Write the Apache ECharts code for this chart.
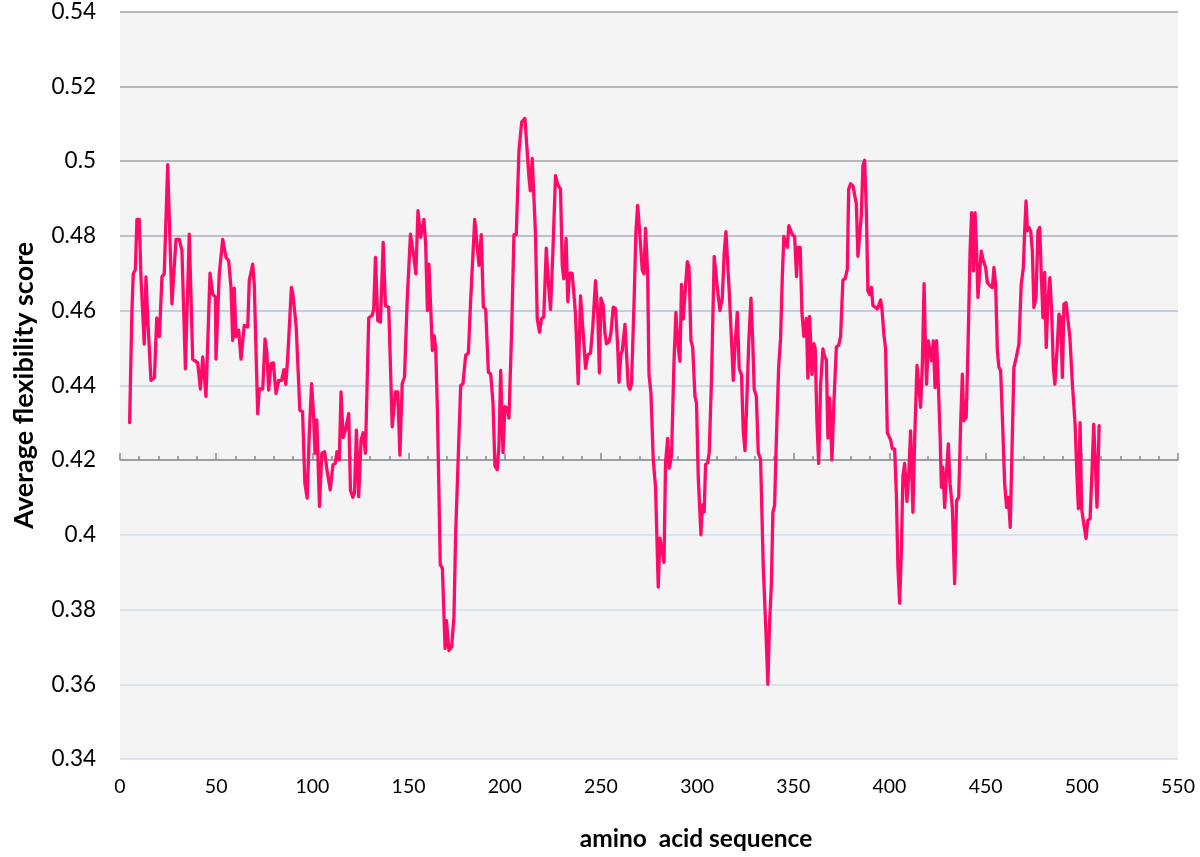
<!DOCTYPE html>
<html>
<head>
<meta charset="utf-8">
<script src="https://cdn.jsdelivr.net/npm/echarts@6/dist/echarts.min.js"></script>
<style>
  html, body { margin: 0; padding: 0; background: #ffffff; }
  #chart { width: 1200px; height: 857px; }
</style>
</head>
<body>
<div id="chart"></div>
<script>
// amino acid positions (x)
const positions = [
  5, 6.2, 6.9, 8, 8.8, 10, 10.9, 11.8, 12.6, 13.5, 14.4, 16.1, 17.9, 19.1, 20.5, 21.8, 23, 24.8, 25.6, 27,
  27.9, 29.1, 30.8, 32.2, 34, 34.3, 36, 37.8, 40.4, 41.8, 43, 44.7, 46.8, 48.2, 49.6, 49.9, 51.6, 53.4, 54.2, 55.1,
  56.5, 57.7, 58.6, 59.4, 60.3, 61.7, 62.9, 64.6, 66.4, 67.2, 69, 69.8, 70.7, 71.6, 72.4, 74.2, 75.4, 76.3, 77.3, 78.5,
  79.7, 81.1, 82.5, 84, 85.2, 86.2, 87.3, 89.1, 89.9, 91.6, 93.5, 94.9, 96.1, 97.3, 98.4, 99.6, 100.5, 101.4, 102.3, 103.7,
  104.9, 106.4, 107.6, 109.3, 110.7, 111.9, 112.8, 114, 114.9, 116, 117.2, 118.9, 119.8, 121, 121.9, 122.9, 124.1, 125.3, 126.4, 127.6,
  129.3, 131.1, 131.9, 132.8, 134, 135.4, 136.8, 138, 139.7, 141.5, 143.2, 144.4, 145.5, 146.7, 147.9, 149.3, 151, 152.8, 153.8, 154.9,
  156.3, 157.1, 158, 158.9, 159.8, 160.6, 161.5, 162.4, 163.3, 164.1, 165, 166.5, 167.6, 169, 169.7, 170.5, 171, 172.4, 173.6, 174.5,
  175.4, 177.1, 178.3, 179.7, 181.1, 182.3, 183.1, 184.4, 185.7, 186.6, 187.8, 188.9, 190.1, 191.5, 192.7, 193.9, 194.9, 196.1, 197, 197.9,
  199.1, 200.1, 201.3, 202.2, 203.6, 204.8, 206, 207.4, 208.8, 210.5, 211.3, 212.6, 213.3, 214.3, 215.2, 216, 216.9, 218.1, 219.1, 220.3,
  221.6, 222.6, 223.8, 225, 226.4, 227.6, 229, 229.9, 230.7, 231.9, 232.8, 233.7, 235, 235.9, 236.8, 238.2, 239.4, 240.2, 241.1, 242,
  243.2, 244.6, 245.8, 247.2, 248.4, 249.2, 250, 250.6, 251.2, 252.1, 252.9, 254.2, 255.2, 256.4, 257.6, 258.7, 259.4, 260.4, 261.1, 262.5,
  263.3, 264.2, 265.1, 265.9, 267.3, 268.2, 269.1, 269.9, 270.8, 271.5, 272.4, 273.2, 274.3, 275, 276, 277.2, 278.4, 279.8, 280.7, 281.5,
  282.8, 283.6, 284.7, 285.5, 286.7, 288, 289, 290.2, 291.1, 291.9, 292.8, 293.7, 294.9, 295.8, 296.8, 297.7, 298.9, 299.7, 300.6, 302,
  302.7, 303.7, 304.4, 305.5, 306.3, 307.5, 308.9, 309.6, 310.7, 311.9, 313.1, 314.1, 315, 315.9, 316.7, 317.9, 318.8, 319.7, 320.9, 321.9,
  323.1, 324, 324.9, 325.7, 326.9, 328, 328.9, 329.7, 330.8, 331.8, 333, 334.4, 335.8, 336.8, 337.7, 338.6, 339.4, 340.3, 341.2, 342.4,
  343.4, 344.3, 345.1, 346, 346.9, 347.7, 348.6, 349.5, 350.7, 351.7, 352.4, 353.6, 354.5, 355.5, 356.8, 357.6, 358.5, 359.7, 360.7, 361.4,
  362.3, 363.2, 364.2, 365.4, 366.3, 367.2, 368, 368.9, 370.1, 371.1, 372.4, 373.6, 374.6, 375.8, 377, 378.1, 378.8, 379.8, 381, 381.9,
  382.8, 383.6, 384.5, 385.4, 386.2, 387.1, 388, 388.8, 389.7, 390.6, 391.4, 392.6, 393.7, 394.4, 395.4, 396.1, 397.1, 398, 398.9, 399.7,
  400.6, 401.5, 402.7, 403.6, 404.4, 405.3, 406.2, 407, 407.9, 409.1, 410, 411, 412.2, 413.1, 414.3, 415.2, 416.2, 417.1, 418, 418.6,
  419.3, 420.2, 421.1, 421.9, 422.8, 423.7, 424.5, 425.4, 426.3, 427, 427.8, 428.7, 429.7, 430.6, 431.5, 432.7, 433.9, 434.9, 436, 437,
  437.9, 438.7, 439.9, 440.8, 441.9, 442.7, 443.6, 444.5, 445.3, 446, 446.9, 447.7, 448.8, 450, 450.9, 452.3, 453.5, 454.3, 455.2, 456.1,
  456.9, 457.8, 458.7, 459.9, 460.9, 461.8, 462.8, 463.7, 464.7, 465.9, 467.3, 468.5, 469.6, 470.3, 471, 471.7, 472.5, 473.4, 474.3, 475.1,
  476.2, 477.2, 478.1, 479, 479.8, 480.7, 481.5, 482.4, 483.4, 484.3, 485.2, 486, 487.3, 488.1, 489, 489.9, 490.7, 491.8, 492.8, 493.8,
  495.1, 496.5, 497.5, 498.2, 499.1, 499.9, 501, 502.2, 503.1, 504.3, 505.1, 506.2, 507, 507.9, 509
];
// average flexibility scores
const scores = [
  0.430, 0.460, 0.4698, 0.471, 0.4844, 0.4844, 0.469, 0.469, 0.451, 0.469, 0.458, 0.4413, 0.442, 0.458, 0.453, 0.469, 0.4698, 0.499, 0.485, 0.4618,
  0.4618, 0.479, 0.479, 0.476, 0.4444, 0.444, 0.4804, 0.447, 0.446, 0.439, 0.4476, 0.437, 0.470, 0.4644, 0.4636, 0.447, 0.4698, 0.479, 0.479, 0.4742,
  0.4733, 0.4662, 0.452, 0.466, 0.453, 0.4547, 0.447, 0.456, 0.4556, 0.468, 0.4724, 0.467, 0.4493, 0.4324, 0.439, 0.439, 0.4524, 0.449, 0.4387, 0.4458,
  0.446, 0.4378, 0.4413, 0.4413, 0.4442, 0.4402, 0.4484, 0.4662, 0.4644, 0.4556, 0.4333, 0.4329, 0.4138, 0.4098, 0.4271, 0.4404, 0.4333, 0.4218, 0.4307, 0.4076,
  0.4218, 0.4222, 0.4173, 0.412, 0.4187, 0.4191, 0.4222, 0.420, 0.4382, 0.426, 0.428, 0.4324, 0.412, 0.410, 0.4111, 0.428, 0.4102, 0.4253, 0.4273, 0.4218,
  0.458, 0.4587, 0.4604, 0.4742, 0.4573, 0.4569, 0.4782, 0.4613, 0.4609, 0.4289, 0.4382, 0.4382, 0.4213, 0.4404, 0.4422, 0.4627, 0.4804, 0.4742, 0.4698, 0.4867,
  0.4796, 0.4791, 0.4844, 0.4778, 0.460, 0.4724, 0.4609, 0.4493, 0.4533, 0.4502, 0.4333, 0.392, 0.391, 0.3696, 0.377, 0.377, 0.369, 0.370, 0.378, 0.4006,
  0.4006, 0.4399, 0.4404, 0.448, 0.4486, 0.4629, 0.4634, 0.4844, 0.4772, 0.4721, 0.4803, 0.4609, 0.4603, 0.4435, 0.443, 0.4353, 0.4184, 0.4174, 0.424, 0.444,
  0.422, 0.4343, 0.4338, 0.4312, 0.4547, 0.4803, 0.4803, 0.5028, 0.5104, 0.5114, 0.511, 0.4956, 0.492, 0.5007, 0.5012, 0.4803, 0.4578, 0.4542, 0.4578, 0.4583,
  0.4767, 0.468, 0.4603, 0.4752, 0.4961, 0.4936, 0.4925, 0.4721, 0.4685, 0.4793, 0.4624, 0.470, 0.470, 0.465, 0.4588, 0.4404, 0.4639, 0.4639, 0.4517, 0.4445,
  0.4481, 0.4486, 0.4558, 0.468, 0.4588, 0.4433, 0.4633, 0.4633, 0.4614, 0.4539, 0.4511, 0.4516, 0.4539, 0.4609, 0.4605, 0.4506, 0.4408, 0.4483, 0.4492, 0.4563,
  0.4558, 0.4399, 0.4389, 0.4403, 0.4633, 0.4811, 0.4881, 0.4829, 0.4834, 0.4708, 0.4698, 0.482, 0.4698, 0.4427, 0.438, 0.4202, 0.4127, 0.386, 0.3991, 0.3996,
  0.3926, 0.4192, 0.4258, 0.4178, 0.4211, 0.4464, 0.4595, 0.4502, 0.4464, 0.467, 0.4577, 0.4577, 0.4731, 0.4717, 0.452, 0.4502, 0.437, 0.4352, 0.4155, 0.400,
  0.408, 0.4061, 0.4188, 0.4192, 0.422, 0.4417, 0.4745, 0.4745, 0.4652, 0.460, 0.4633, 0.4755, 0.4811, 0.4806, 0.4652, 0.452, 0.4413, 0.4502, 0.4595, 0.4445,
  0.4427, 0.4277, 0.4225, 0.4338, 0.452, 0.4633, 0.452, 0.4389, 0.437, 0.422, 0.4202, 0.3914, 0.3739, 0.3600, 0.3768, 0.3865, 0.406, 0.4079, 0.4254, 0.4448,
  0.4526, 0.4691, 0.4798, 0.4803, 0.4769, 0.4827, 0.4832, 0.4803, 0.4798, 0.4691, 0.4769, 0.4769, 0.4594, 0.4531, 0.4579, 0.4419, 0.4584, 0.4429, 0.4511, 0.4497,
  0.4302, 0.4191, 0.440, 0.4497, 0.4477, 0.4468, 0.4259, 0.4366, 0.420, 0.4351, 0.4502, 0.4507, 0.4531, 0.4681, 0.4686, 0.4711, 0.4924, 0.4939, 0.4934, 0.4929,
  0.4885, 0.4745, 0.4745, 0.4856, 0.4987, 0.5002, 0.4866, 0.4652, 0.4643, 0.4662, 0.4613, 0.4609, 0.4604, 0.4604, 0.4628, 0.4604, 0.4536, 0.4497, 0.4273, 0.4264,
  0.4254, 0.423, 0.423, 0.4108, 0.3914, 0.3817, 0.3963, 0.4157, 0.4191, 0.4089, 0.4157, 0.4278, 0.406, 0.4254, 0.4453, 0.4458, 0.4341, 0.4458, 0.4672, 0.4528,
  0.4403, 0.4519, 0.4519, 0.4465, 0.4519, 0.4394, 0.4519, 0.4403, 0.427, 0.4127, 0.418, 0.4073, 0.4171, 0.4243, 0.4136, 0.4073, 0.3869, 0.4091, 0.410, 0.4296,
  0.443, 0.4305, 0.4314, 0.4492, 0.4759, 0.4862, 0.4706, 0.4862, 0.4759, 0.4635, 0.463, 0.4759, 0.4733, 0.4715, 0.4675, 0.4666, 0.4661, 0.4715, 0.467, 0.4492,
  0.4448, 0.4439, 0.4314, 0.4136, 0.4073, 0.410, 0.402, 0.4225, 0.4448, 0.4474, 0.451, 0.467, 0.4715, 0.4813, 0.4893, 0.4813, 0.4822, 0.4813, 0.4759, 0.4608,
  0.4635, 0.4813, 0.4822, 0.4688, 0.4581, 0.4702, 0.4501, 0.4626, 0.4688, 0.4599, 0.4448, 0.4403, 0.451, 0.459, 0.4581, 0.4421, 0.4617, 0.4621, 0.4617, 0.4528,
  0.4403, 0.4296, 0.4154, 0.407, 0.430, 0.407, 0.403, 0.399, 0.4038, 0.4043, 0.4145, 0.4296, 0.4292, 0.4074, 0.4292
];

// axis settings
const xMin = 0, xMax = 550, xStep = 50, xMinorSplit = 5;
const yMin = 0.34, yMax = 0.54, yStep = 0.02;
const xCross = 0.42; // value where the horizontal axis line crosses
const xTitle = 'amino  acid sequence';
const yTitle = 'Average flexibility score';

// colours of the horizontal grid lines from 0.34 up to 0.54
const gridColors = ['#d6dbe6', '#d3deee', '#d3deee', '#d3deee', '#c8d4e6', '#c3d0e4', '#b5c2d6', '#a7b0bf', '#a3a3a3', '#a3a3a3', '#a3a3a3'];

const lineData = positions.map((x, i) => [x, scores[i]]);

const chart = echarts.init(document.getElementById('chart'), null, { renderer: 'canvas' });
const FONT = 'Lato';
const tickStyle = { color: '#8a8a8a', width: 1.5 };

chart.setOption({
  animation: false,
  backgroundColor: '#ffffff',
  grid: {
    left: 120, right: 22, top: 10, bottom: 98,
    show: true, backgroundColor: '#f4f4f4', borderWidth: 0
  },
  xAxis: [
    {
      type: 'value', min: xMin, max: xMax, interval: xStep,
      position: 'bottom',
      axisLine: { show: false, onZero: false },
      axisTick: { show: false },
      splitLine: { show: false },
      axisLabel: { fontFamily: FONT, fontSize: 19.5, color: '#000', margin: 18 },
      name: xTitle, nameLocation: 'middle', nameGap: 68,
      nameTextStyle: { fontFamily: FONT, fontSize: 24.5, fontWeight: 'bold', color: '#000', padding: [0, 0, 0, 94] }
    },
    {
      type: 'value', min: xMin, max: xMax, interval: xStep,
      position: 'bottom',
      axisLine: { show: true, onZero: true, onZeroAxisIndex: 1, lineStyle: tickStyle },
      axisTick: { show: true, inside: true, length: 7, lineStyle: tickStyle },
      minorTick: { show: true, splitNumber: xMinorSplit, length: 4, lineStyle: tickStyle },
      axisLabel: { show: false },
      splitLine: { show: false }
    }
  ],
  yAxis: [
    {
      type: 'value', min: yMin, max: yMax, interval: yStep,
      axisLine: { show: false, onZero: false },
      axisTick: { show: false },
      axisLabel: {
        fontFamily: FONT, fontSize: 22.5, color: '#000', margin: 24,
        formatter: v => String(parseFloat(v.toFixed(2)))
      },
      splitLine: { show: true, lineStyle: { color: gridColors, width: 1.6 } },
      name: yTitle, nameLocation: 'middle', nameGap: 82,
      nameTextStyle: { fontFamily: FONT, fontSize: 27, fontWeight: 'bold', color: '#000' }
    },
    {
      type: 'value', min: yMin - xCross, max: yMax - xCross,
      show: false,
      axisLine: { onZero: false },
      splitLine: { show: false }
    }
  ],
  series: [
    {
      type: 'line',
      xAxisIndex: 0, yAxisIndex: 0,
      data: lineData,
      showSymbol: false,
      symbol: 'none',
      smooth: false,
      lineStyle: { color: '#ff0a68', width: 3.3, join: 'round', cap: 'round' },
      z: 5
    }
  ]
});
</script>
</body>
</html>
